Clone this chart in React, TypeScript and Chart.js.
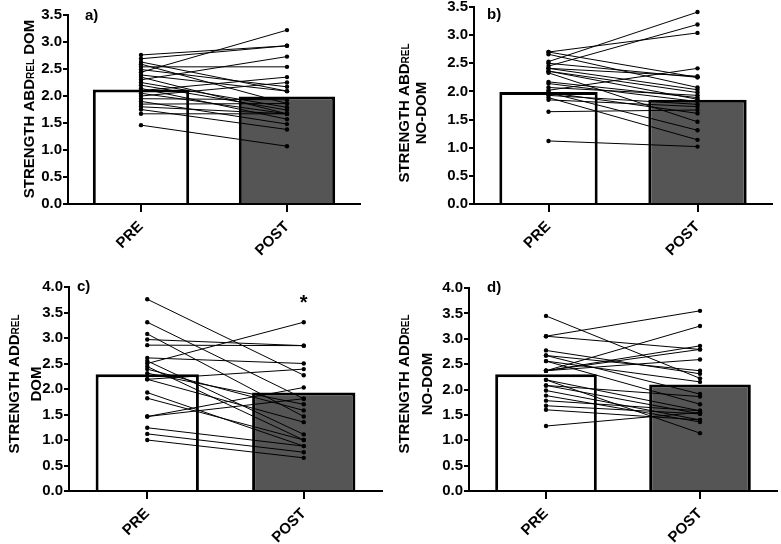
import React, { useEffect, useRef } from 'react';
import { Chart, registerables } from 'chart.js';

Chart.register(...registerables);

const categories = ['PRE', 'POST'];

// Panel a) STRENGTH ABD REL DOM
const aMeans = [2.12, 1.99];
const aPre = [2.76, 2.69, 2.63, 2.59, 2.54, 2.49, 2.44, 2.39, 2.35, 2.30, 2.25, 2.20, 2.14, 2.10, 2.05, 2.00, 1.95, 1.90, 1.85, 1.80, 1.75, 1.67, 1.46];
const aPost = [2.93, 2.93, 2.09, 1.86, 2.54, 2.17, 3.22, 2.09, 1.67, 2.73, 1.79, 1.74, 1.57, 2.35, 1.67, 2.25, 1.93, 1.48, 1.86, 1.67, 1.38, 1.67, 1.07];

// Panel b) STRENGTH ABD REL NO-DOM
const bMeans = [1.99, 1.85];
const bPre = [2.70, 2.66, 2.53, 2.50, 2.45, 2.41, 2.36, 2.33, 2.17, 2.14, 2.07, 2.02, 1.98, 1.93, 1.89, 1.85, 1.64, 1.12, 2.41, 2.36, 2.70, 1.98];
const bPost = [3.04, 2.07, 3.41, 2.25, 3.19, 2.27, 1.98, 1.46, 1.89, 1.82, 1.93, 2.41, 1.31, 1.77, 1.14, 1.73, 1.67, 1.02, 2.03, 1.86, 2.25, 1.61];

// Panel c) STRENGTH ADD REL DOM
const cMeans = [2.29, 1.93];
const cPre = [3.76, 3.31, 3.08, 2.97, 2.86, 2.61, 2.55, 2.50, 2.44, 2.39, 2.31, 2.19, 2.19, 1.93, 1.82, 1.46, 1.46, 1.24, 1.12, 1.00];
const cPost = [2.27, 1.81, 1.46, 2.85, 2.85, 2.50, 1.11, 3.31, 1.00, 1.58, 1.70, 2.39, 1.35, 0.88, 1.00, 2.03, 1.81, 0.88, 0.76, 0.65];

// Panel d) STRENGTH ADD REL NO-DOM
const dMeans = [2.30, 2.10];
const dPre = [3.45, 3.05, 3.05, 2.77, 2.67, 2.56, 2.56, 2.37, 2.37, 2.37, 2.37, 2.19, 2.19, 2.08, 2.08, 1.98, 1.88, 1.78, 1.68, 1.60, 1.28, 2.67];
const dPost = [2.22, 3.55, 2.79, 2.31, 1.91, 2.15, 1.71, 3.25, 2.86, 2.79, 2.59, 1.58, 1.14, 1.52, 1.86, 1.40, 1.36, 1.58, 1.52, 1.40, 1.55, 2.37];

const FONT = '"Liberation Sans", Arial, sans-serif';

type Part = { t: string; sub?: boolean };

interface PanelProps {
  left: number;
  top: number;
  width: number;
  height: number;
  area: { left: number; top: number; right: number; bottom: number };
  yMax: number;
  means: number[];
  pre: number[];
  post: number[];
  titleLines: Part[][];
  titleX: number[];
  titleY: number;
  label: string;
  labelPos: [number, number];
  star?: boolean;
}

function Panel(p: PanelProps) {
  const ref = useRef<HTMLCanvasElement | null>(null);
  useEffect(() => {
    if (!ref.current) return;
    const lineSets = p.pre.map((v, i) => ({
      type: 'line' as const,
      data: [v, p.post[i]],
      borderColor: '#000',
      borderWidth: 1,
      pointRadius: 2.2,
      pointBackgroundColor: '#000',
      pointBorderWidth: 0,
      order: 0,
    }));
    const textPlugin = {
      id: 'panelText',
      afterDraw(chart: any) {
        const ctx = chart.ctx as CanvasRenderingContext2D;
        ctx.save();
        ctx.fillStyle = '#000';
        p.titleLines.forEach((parts, li) => {
          const big = 'bold 15px ' + FONT;
          const small = 'bold 10px ' + FONT;
          let total = 0;
          parts.forEach((pt) => {
            ctx.font = pt.sub ? small : big;
            total += ctx.measureText(pt.t).width;
          });
          ctx.save();
          ctx.translate(p.titleX[li], p.titleY);
          ctx.rotate(-Math.PI / 2);
          ctx.textBaseline = 'alphabetic';
          ctx.textAlign = 'left';
          let x = -total / 2;
          parts.forEach((pt) => {
            ctx.font = pt.sub ? small : big;
            ctx.fillText(pt.t, x, 5.5);
            x += ctx.measureText(pt.t).width;
          });
          ctx.restore();
        });
        ctx.font = 'bold 15px ' + FONT;
        ctx.textAlign = 'left';
        ctx.textBaseline = 'middle';
        ctx.fillText(p.label, p.labelPos[0], p.labelPos[1]);
        if (p.star) {
          const xs = chart.scales.x;
          const cx = xs.getPixelForValue(1);
          ctx.font = 'bold 20px ' + FONT;
          ctx.textAlign = 'center';
          ctx.textBaseline = 'middle';
          ctx.fillText('*', cx, 31);
        }
        ctx.restore();
      },
    };
    const chart = new Chart(ref.current, {
      type: 'bar',
      data: {
        labels: categories,
        datasets: [
          {
            type: 'bar' as const,
            data: p.means,
            backgroundColor: ['#ffffff', '#555555'],
            borderColor: '#000',
            borderWidth: 3,
            borderSkipped: 'start',
            categoryPercentage: 1,
            barPercentage: 0.66,
            order: 1,
          } as any,
          ...lineSets,
        ],
      },
      options: {
        animation: false,
        responsive: false,
        maintainAspectRatio: false,
        events: [],
        layout: {
          padding: {
            left: 0,
            top: p.area.top,
            right: p.width - p.area.right,
            bottom: 0,
          },
        },
        plugins: {
          legend: { display: false },
          tooltip: { enabled: false },
          title: { display: false },
        },
        scales: {
          x: {
            type: 'category',
            offset: true,
            grid: {
              offset: false,
              drawOnChartArea: false,
              drawTicks: true,
              tickLength: 8,
              color: '#000',
              lineWidth: 2,
            },
            border: { display: true, color: '#000', width: 2 },
            ticks: {
              color: '#000',
              font: { family: FONT, size: 15, weight: 'bold' },
              maxRotation: 45,
              minRotation: 45,
              padding: 6,
            },
            afterFit(scale: any) {
              scale.height = p.height - p.area.bottom;
              scale.paddingLeft = 0;
              scale.paddingRight = 0;
            },
          },
          y: {
            min: 0,
            max: p.yMax,
            grid: {
              drawOnChartArea: false,
              drawTicks: true,
              tickLength: 5,
              color: '#000',
              lineWidth: 2,
            },
            border: { display: true, color: '#000', width: 2 },
            ticks: {
              stepSize: 0.5,
              color: '#000',
              padding: 1,
              font: { family: FONT, size: 15, weight: 'bold' },
              callback: (v: any) => Number(v).toFixed(1),
            },
            afterFit(scale: any) {
              scale.width = p.area.left;
              scale.paddingTop = 0;
              scale.paddingBottom = 0;
            },
          },
        },
      } as any,
      plugins: [textPlugin],
    });
    return () => chart.destroy();
  }, []);
  return (
    <div style={{ position: 'absolute', left: p.left, top: p.top, width: p.width, height: p.height }}>
      <canvas ref={ref} width={p.width} height={p.height} style={{ width: p.width, height: p.height, display: 'block' }} />
    </div>
  );
}

export default function App() {
  useEffect(() => {
    document.body.style.margin = '0';
    document.body.style.background = '#fff';
  }, []);
  return (
    <div style={{ position: 'relative', width: 781, height: 544, background: '#fff' }}>
      <Panel
        left={0} top={0} width={390} height={272}
        area={{ left: 68, top: 15, right: 360, bottom: 204 }}
        yMax={3.5} means={aMeans} pre={aPre} post={aPost}
        titleLines={[[{ t: 'STRENGTH ABD' }, { t: 'REL', sub: true }, { t: ' DOM' }]]}
        titleX={[28]} titleY={109}
        label="a)" labelPos={[85, 16]}
      />
      <Panel
        left={390} top={0} width={391} height={272}
        area={{ left: 84, top: 7, right: 382, bottom: 204 }}
        yMax={3.5} means={bMeans} pre={bPre} post={bPost}
        titleLines={[[{ t: 'STRENGTH ABD' }, { t: 'REL', sub: true }], [{ t: 'NO-DOM' }]]}
        titleX={[13, 30]} titleY={113}
        label="b)" labelPos={[97, 15]}
      />
      <Panel
        left={0} top={272} width={390} height={272}
        area={{ left: 69, top: 15, right: 382, bottom: 219 }}
        yMax={4.0} means={cMeans} pre={cPre} post={cPost}
        titleLines={[[{ t: 'STRENGTH ADD' }, { t: 'REL', sub: true }], [{ t: 'DOM' }]]}
        titleX={[13, 35]} titleY={112}
        label="c)" labelPos={[77, 15]}
        star
      />
      <Panel
        left={390} top={272} width={391} height={272}
        area={{ left: 79, top: 16, right: 387, bottom: 219 }}
        yMax={4.0} means={dMeans} pre={dPre} post={dPost}
        titleLines={[[{ t: 'STRENGTH ADD' }, { t: 'REL', sub: true }], [{ t: 'NO-DOM' }]]}
        titleX={[13, 36]} titleY={112}
        label="d)" labelPos={[97, 16]}
      />
    </div>
  );
}
